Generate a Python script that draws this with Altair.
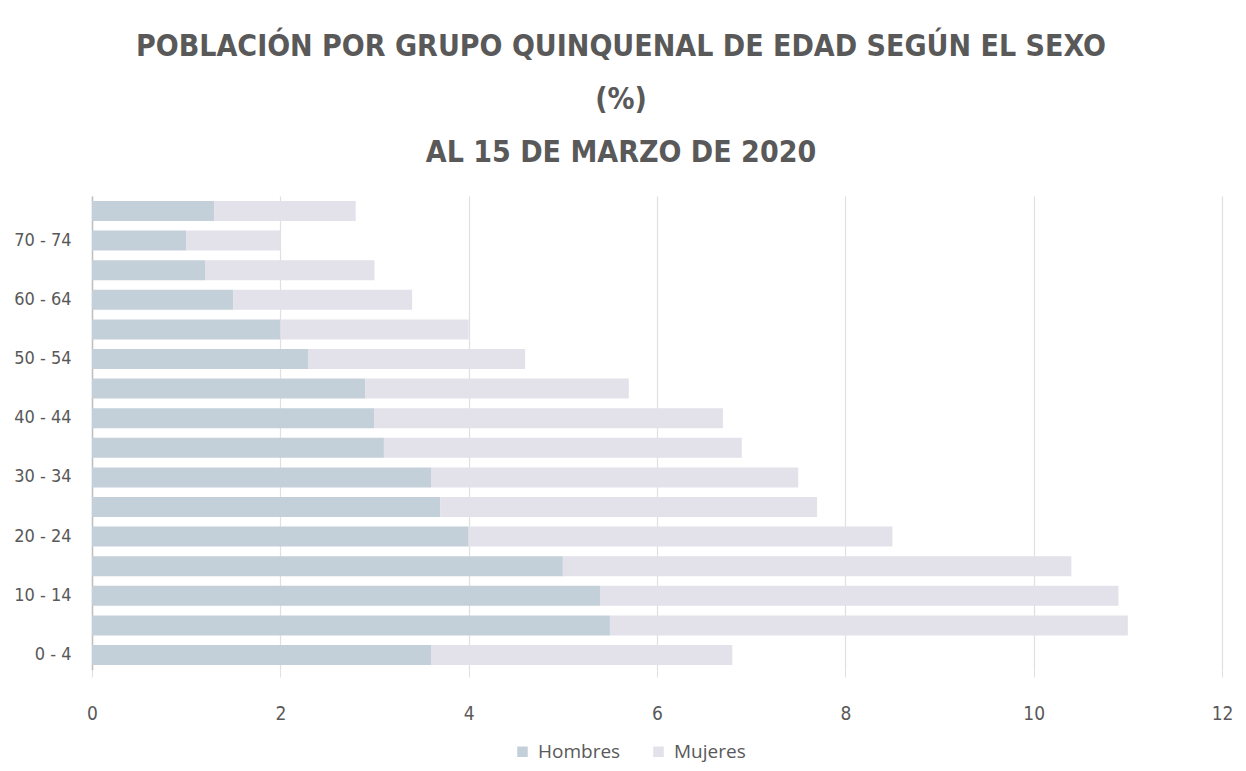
import altair as alt
import pandas as pd

grupos = ["0 - 4", "5 - 9", "10 - 14", "15 - 19", "20 - 24", "25 - 29", "30 - 34",
          "35 - 39", "40 - 44", "45 - 49", "50 - 54", "55 - 59", "60 - 64",
          "65 - 69", "70 - 74", "75 y más"]
hombres = [3.6, 5.5, 5.4, 5.0, 4.0, 3.7, 3.6, 3.1, 3.0, 2.9, 2.3, 2.0, 1.5, 1.2, 1.0, 1.3]
mujeres = [3.2, 5.5, 5.5, 5.4, 4.5, 4.0, 3.9, 3.8, 3.7, 2.8, 2.3, 2.0, 1.9, 1.8, 1.0, 1.5]
series = ["Hombres", "Mujeres"]
colores = ["#C3CFD9", "#E3E1EA"]
etiquetas_y = ["0 - 4", "10 - 14", "20 - 24", "30 - 34", "40 - 44", "50 - 54", "60 - 64", "70 - 74"]

rows = []
for g, h, m in zip(grupos, hombres, mujeres):
    rows.append({"grupo": g, "sexo": "Hombres", "valor": h, "orden": 0})
    rows.append({"grupo": g, "sexo": "Mujeres", "valor": m, "orden": 1})
df = pd.DataFrame(rows)

cond = "DejaVu Sans Condensed, sans-serif"
gris = "#595959"

chart = alt.Chart(df).mark_bar(size=20).encode(
    y=alt.Y("grupo:N", sort=list(reversed(grupos)), title=None,
            scale=alt.Scale(paddingInner=0.33, paddingOuter=0.17),
            axis=alt.Axis(values=etiquetas_y, ticks=False, domain=True, domainColor="#BFBFBF",
                          domainWidth=1.5, labelFont=cond, labelFontSize=18, labelColor=gris,
                          labelPadding=21, grid=False)),
    x=alt.X("valor:Q", stack="zero", title=None,
            scale=alt.Scale(domain=[0, 12], nice=False),
            axis=alt.Axis(values=[0, 2, 4, 6, 8, 10, 12], domain=False, ticks=True, tickSize=7,
                          tickColor="#E0E0E0", grid=True, gridColor="#E0E0E0", gridWidth=1.2,
                          labelFlush=False, labelFont=cond, labelFontSize=19, labelColor=gris,
                          labelPadding=27)),
    color=alt.Color("sexo:N", scale=alt.Scale(domain=series, range=colores),
                    legend=alt.Legend(title=None, orient="none", direction="horizontal",
                                      legendX=421, legendY=546, symbolType="square", symbolSize=110,
                                      symbolStrokeWidth=0, labelFont="Open Sans", labelFontSize=19,
                                      labelColor=gris, columnPadding=28, labelOffset=6)),
    order=alt.Order("orden:Q"),
).properties(
    width=1130, height=474,
    title=alt.TitleParams(
        text=["POBLACIÓN POR GRUPO QUINQUENAL DE EDAD SEGÚN EL SEXO", "(%)", "AL 15 DE MARZO DE 2020"],
        font=cond, fontSize=30, fontWeight="bold", color=gris, anchor="middle",
        lineHeight=53, offset=28, dx=-36),
    autosize=alt.AutoSizeParams(type="none"),
    padding={"left": 84, "top": 188, "right": 16, "bottom": 93},
).configure_view(stroke=None)

chart.save("out.html", embed_options={"renderer": "svg", "actions": False})
